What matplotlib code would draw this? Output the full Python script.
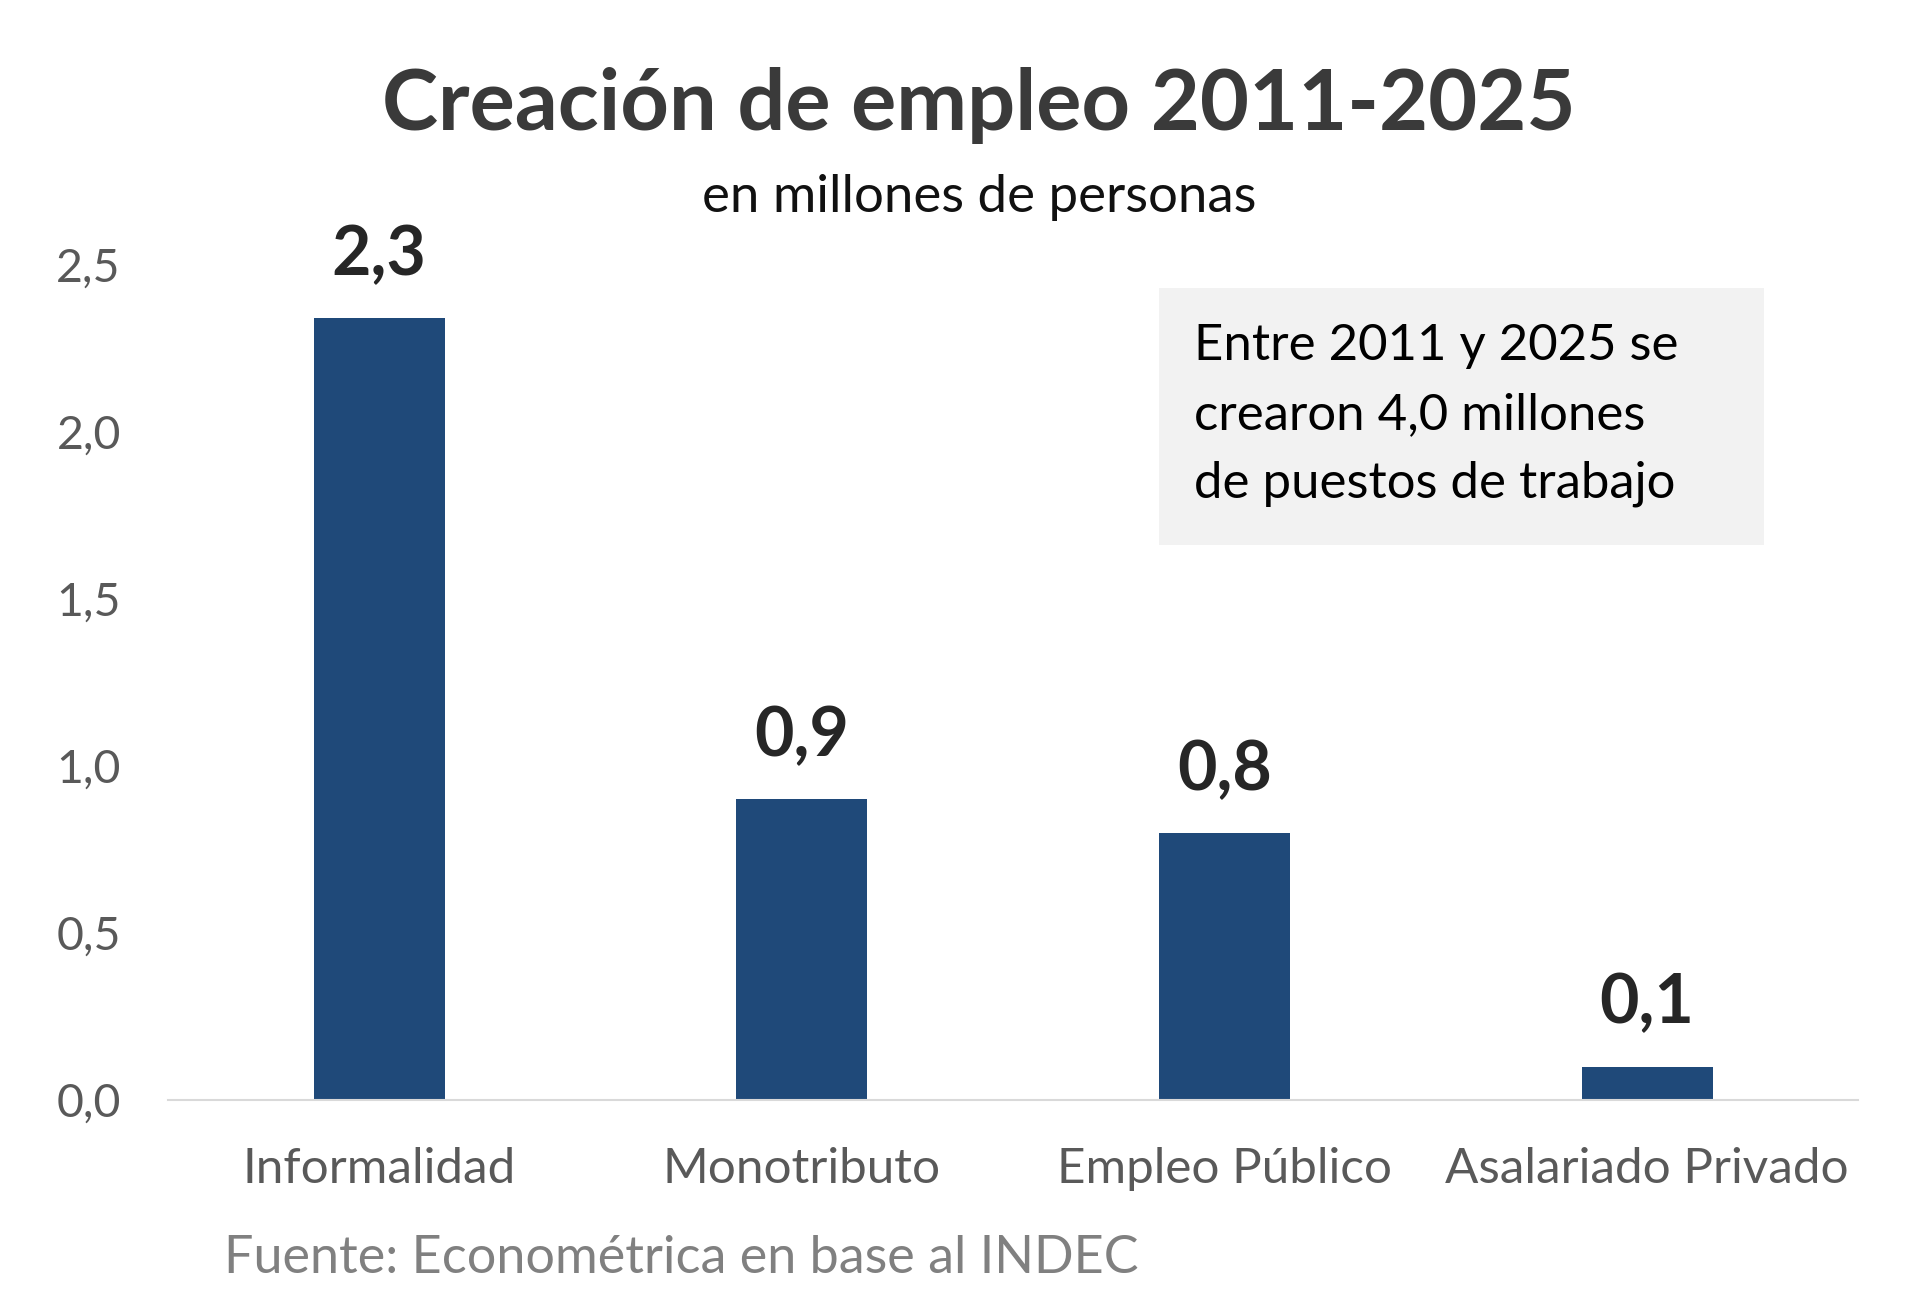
import matplotlib
matplotlib.use("Agg")
import matplotlib.pyplot as plt
from matplotlib.patches import Rectangle

# data
categorias = ["Informalidad", "Monotributo", "Empleo Público", "Asalariado Privado"]
valores = [2.34, 0.90, 0.80, 0.10]
etiquetas = ["2,3", "0,9", "0,8", "0,1"]
yticks = [0.0, 0.5, 1.0, 1.5, 2.0, 2.5]
ytick_labels = ["0,0", "0,5", "1,0", "1,5", "2,0", "2,5"]

titulo = "Creación de empleo 2011-2025"
subtitulo = "en millones de personas"
nota = "Entre 2011 y 2025 se\ncrearon 4,0 millones\nde puestos de trabajo"
fuente = "Fuente: Econométrica en base al INDEC"

plt.rcParams["font.family"] = ["Lato", "DejaVu Sans"]

fig = plt.figure(figsize=(19.2, 13.14), dpi=100)
ax = fig.add_axes([0.0875, 0.1629, 0.8804, 0.6355])

x = range(len(categorias))
bars = ax.bar(x, valores, width=0.31, color="#1f4979", zorder=2)

for xi, v, lab in zip(x, valores, etiquetas):
    ax.annotate(lab, (xi, v), xytext=(0, 45), textcoords="offset points",
                ha="center", va="center", fontsize=49, fontweight="bold",
                color="#262626")

ax.set_xlim(-0.5, len(categorias) - 0.5)
ax.set_ylim(0, 2.5)
ax.set_xticks(list(x))
ax.set_xticklabels(categorias, fontsize=35.6, color="#595959")
ax.set_yticks(yticks)
ax.set_yticklabels(ytick_labels, fontsize=33.5, color="#595959")
ax.tick_params(axis="x", length=0, pad=34)
ax.tick_params(axis="y", length=0, pad=34)

for s in ["top", "right", "left"]:
    ax.spines[s].set_visible(False)
ax.spines["bottom"].set_color("#d9d9d9")
ax.spines["bottom"].set_linewidth(1.5)

# recuadro con la nota
ax.add_patch(Rectangle((0.586, 0.665), 0.358, 0.307, transform=ax.transAxes,
                       facecolor="#f2f2f2", edgecolor="none", zorder=1))
ax.text(0.607, 0.820, nota, transform=ax.transAxes, ha="left", va="center",
        fontsize=36.6, color="#000000", linespacing=1.62, zorder=3)

fig.text(0.510, 0.920, titulo, ha="center", va="center", fontsize=61,
         fontweight="bold", color="#3a3a3a")
fig.text(0.510, 0.850, subtitulo, ha="center", va="center", fontsize=38,
         color="#111111")
fig.text(0.1167, 0.0426, fuente, ha="left", va="center", fontsize=37.5,
         color="#808080")

fig.savefig("out.png", dpi=100)
